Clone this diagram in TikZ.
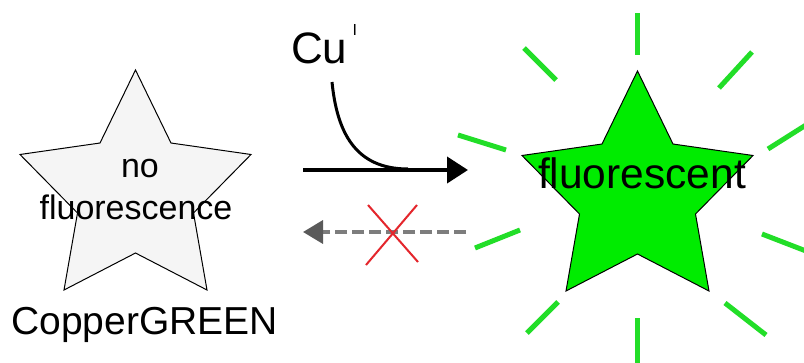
\documentclass[tikz,border=0pt]{standalone}
\usepackage{fontspec}
\setmainfont{Liberation Sans}
\usetikzlibrary{arrows.meta}
\definecolor{starfill}{RGB}{0,236,0}
\definecolor{raygreen}{RGB}{34,222,40}
\definecolor{paleg}{RGB}{245,245,245}
\definecolor{dashgray}{RGB}{125,125,125}
\definecolor{tipgray}{RGB}{90,90,90}
\definecolor{crossred}{RGB}{228,38,44}
\newcommand\mystarpath{(0,-121) -- (35.5,-48) -- (115.5,-36.5) -- (58,22) -- (71.5,99) -- (0,62) -- (-71.5,99) -- (-58,22) -- (-115.5,-36.5) -- (-35.5,-48) -- cycle}
\tikzset{
  starline/.style={draw=black, line width=1pt, line join=miter},
  txt/.style={inner sep=0pt, anchor=base},
  ray/.style={draw=raygreen, line width=5pt},
  mainarrow/.style={draw=black, line width=4pt, -{Triangle[length=21pt,width=26pt]}},
  backarrow/.style={draw=dashgray, line width=3.5pt, dash pattern=on 12pt off 5pt, -{Triangle[length=20pt,width=23pt,color=tipgray]}},
  cross/.style={draw=crossred, line width=2pt},
}
\begin{document}
\begin{tikzpicture}[x=1pt,y=-1pt]
\useasboundingbox[fill=white] (0,0) rectangle (804,362);
% stars
\coordinate (lstar) at (135.5,191);
\coordinate (rstar) at (637.5,192);
\draw[starline, fill=paleg, shift={(lstar)}] \mystarpath;
\draw[starline, fill=starfill, shift={(rstar)}] \mystarpath;
% rays
\draw[ray] (637,13) -- (637,55);
\draw[ray] (524,48) -- (556,80);
\draw[ray] (752,52) -- (719,88);
\draw[ray] (458,135) -- (506,150);
\draw[ray] (806,125) -- (768,149);
\draw[ray] (475,248) -- (520,230);
\draw[ray] (762,234) -- (806,251);
\draw[ray] (527,333) -- (558,302);
\draw[ray] (725,303) -- (766,335);
\draw[ray] (637,318) -- (637,364);
% texts
\node[txt, font=\fontsize{34}{34}\selectfont] (no) at (140,177) {no};
\node[txt, font=\fontsize{34}{34}\selectfont] (nofl) at (136,219) {fluorescence};
\node[txt, font=\fontsize{39}{39}\selectfont] (cg) at (144.5,334) {CopperGREEN};
\node[txt, font=\fontsize{42.5}{42.5}\selectfont] (fl) at (642,188) {fluorescent};
\node[txt, anchor=base west, font=\fontsize{44}{44}\selectfont] (cu) at (291,63) {Cu};
\node[txt, anchor=base west, font=\fontsize{16}{16}\selectfont] (cusup) at (352.5,35.5) {I};
% forward arrow
\coordinate (fwdA) at (303,170);
\coordinate (fwdB) at (468,170);
\draw[mainarrow] (fwdA) -- (fwdB);
\coordinate (cuA) at (332,82);
\coordinate (cuB) at (408,169);
\draw[black, line width=3pt] (cuA) .. controls (337,132) and (355,169) .. (cuB);
% backward arrow
\coordinate (bkA) at (466,232);
\coordinate (bkB) at (303,232);
\draw[backarrow] (bkA) -- (bkB);
% cross
\coordinate (x1) at (368,205);
\coordinate (x2) at (418,262);
\coordinate (x3) at (417,205);
\coordinate (x4) at (366,265);
\draw[cross] (x1) -- (x2);
\draw[cross] (x3) -- (x4);
\end{tikzpicture}
\end{document}
